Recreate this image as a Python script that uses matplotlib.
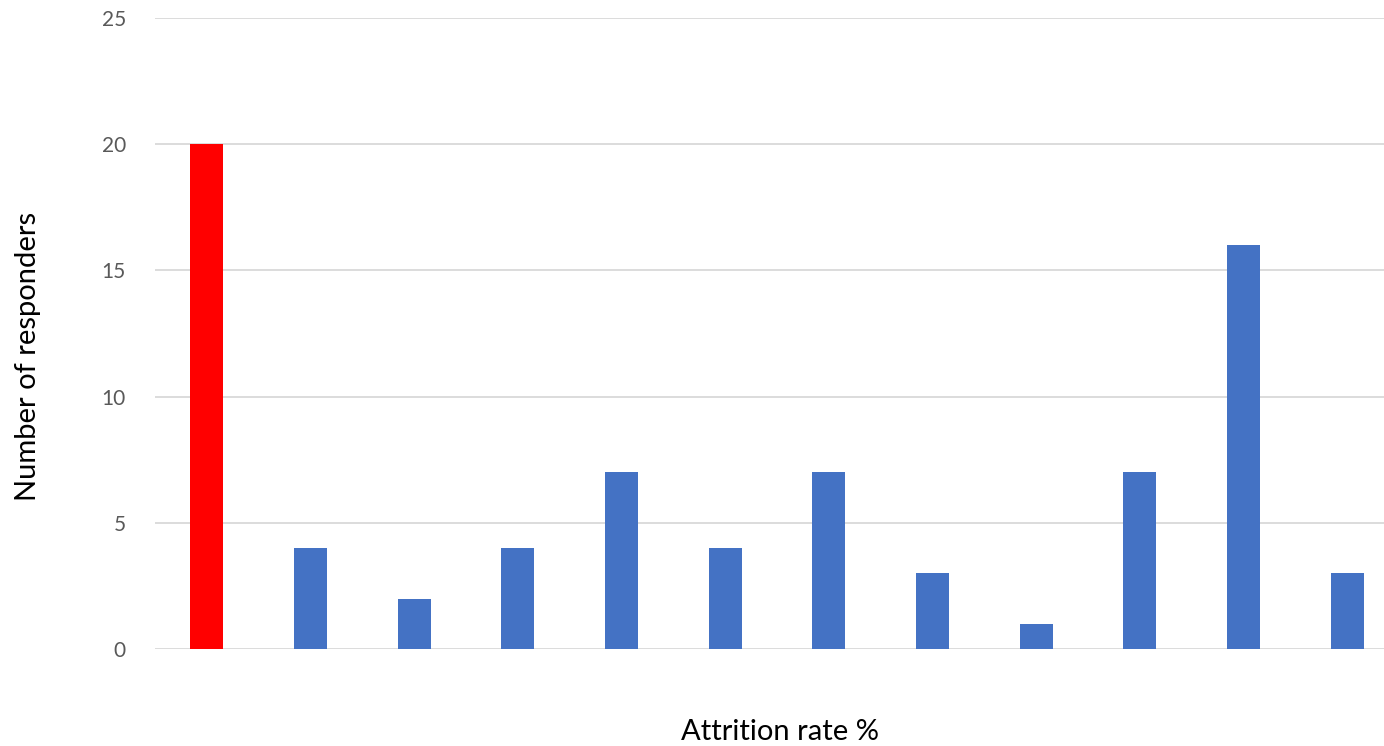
import matplotlib.pyplot as plt
import numpy as np

plt.rcParams['font.family'] = ['Lato', 'DejaVu Sans']

responders = [20, 4, 2, 4, 7, 4, 7, 3, 1, 7, 16, 3]
bar_colors = ['#ff0000'] + ['#4472c4'] * 11
y_ticks = [0, 5, 10, 15, 20, 25]

fig = plt.figure(figsize=(13.84, 7.46), dpi=100)
ax = fig.add_axes([155 / 1384, 97 / 746, 1 - 155 / 1384, 631 / 746])

x = np.arange(len(responders))
ax.bar(x, responders, width=0.32, color=bar_colors, zorder=3)

ax.set_xlim(-0.5, 11.355)
ax.set_ylim(0, 25)
ax.set_yticks(y_ticks)
ax.set_xticks([])
ax.grid(axis='y', color='#d9d9d9', linewidth=1.3, zorder=0)
ax.tick_params(axis='y', length=0, pad=21, labelsize=15, labelcolor='#595959')
for side in ['top', 'right', 'left', 'bottom']:
    ax.spines[side].set_visible(False)

ylab = ax.set_ylabel('Number of responders', fontsize=21)
ylab.set_verticalalignment('center')
ax.yaxis.set_label_coords(-0.1033, 0.463)
xlab = ax.set_xlabel('Attrition rate %', fontsize=21)
xlab.set_verticalalignment('center')
ax.xaxis.set_label_coords(0.5085, -0.1315)

fig.savefig('out.png', dpi=100)
